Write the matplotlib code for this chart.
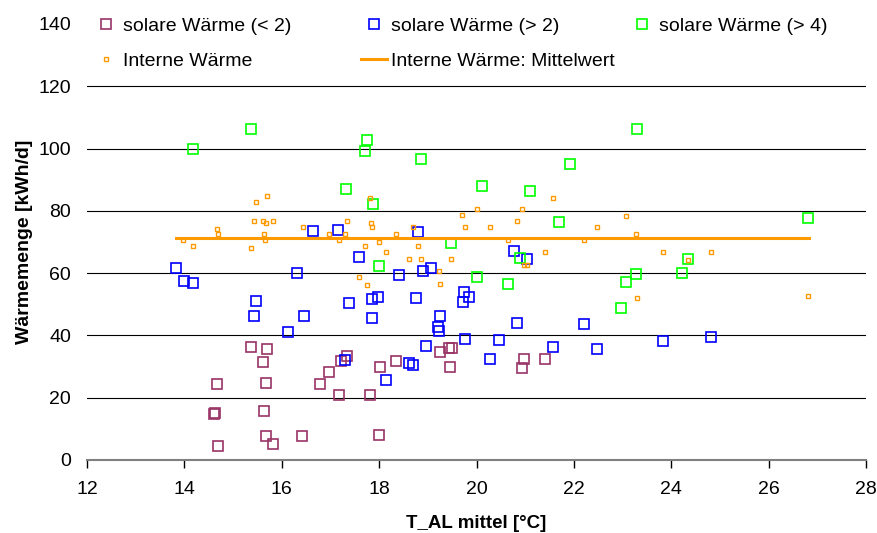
import matplotlib
matplotlib.use('Agg')
import matplotlib.pyplot as plt

plt.rcParams['font.family'] = ['Liberation Sans', 'DejaVu Sans']

# solare Wärme (< 2)
t_low = [14.60, 14.62, 14.66, 14.70, 15.37, 15.61, 15.64, 15.67, 15.68, 15.69, 15.83,
         16.42, 16.79, 16.96, 17.18, 17.21, 17.33, 17.81, 18.00, 18.02, 18.34,
         19.24, 19.43, 19.49, 19.45, 20.94, 20.98, 21.41]
q_low = [14.8, 15.0, 24.4, 4.5, 36.4, 31.4, 15.6, 7.6, 24.6, 35.6, 5.0,
         7.8, 24.4, 28.3, 20.9, 31.9, 33.3, 20.8, 8.1, 29.8, 31.9,
         34.7, 36.1, 36.1, 30.0, 29.4, 32.5, 32.5]

# solare Wärme (> 2)
t_mid = [13.83, 13.99, 14.18, 15.48, 15.44, 16.13, 16.31, 16.45, 16.64, 17.15, 17.29,
         17.38, 17.59, 17.85, 17.86, 17.98, 18.15, 18.41, 18.61, 18.70, 18.76, 18.79,
         18.91, 18.96, 19.07, 19.20, 19.23, 19.24, 19.72, 19.74, 19.77, 19.84, 20.28,
         20.47, 20.76, 20.83, 21.04, 21.57, 22.20, 22.47, 23.82, 24.82]
q_mid = [61.7, 57.5, 56.9, 51.1, 46.2, 41.1, 60.2, 46.2, 73.6, 74.0, 32.1,
         50.4, 65.2, 51.6, 45.6, 52.2, 25.8, 59.4, 31.0, 30.6, 51.9, 73.1,
         60.8, 36.7, 61.5, 42.6, 41.4, 46.3, 50.8, 53.8, 38.9, 52.2, 32.5,
         38.5, 67.0, 43.9, 64.5, 36.4, 43.8, 35.5, 38.3, 39.5]

# solare Wärme (> 4)
t_high = [14.17, 15.37, 17.31, 17.71, 17.75, 17.87, 18.00, 18.87, 19.48, 20.02, 20.12,
          20.65, 20.90, 21.10, 21.70, 21.93, 22.96, 23.08, 23.27, 23.30, 24.21, 24.34, 26.80]
q_high = [99.8, 106.4, 87.0, 99.3, 102.7, 82.2, 62.4, 96.8, 69.6, 58.9, 88.0,
          56.6, 65.0, 86.3, 76.5, 95.2, 48.9, 57.2, 59.7, 106.4, 60.0, 64.5, 77.7]

# Interne Wärme
t_int = [13.98, 14.18, 14.67, 14.70, 15.37, 15.44, 15.48, 15.61, 15.64, 15.66, 15.68,
         15.69, 15.83, 16.44, 16.96, 17.17, 17.30, 17.33, 17.59, 17.70, 17.75, 17.81,
         17.84, 17.86, 18.00, 18.15, 18.34, 18.62, 18.70, 18.80, 18.87, 19.23, 19.24,
         19.48, 19.71, 19.77, 20.02, 20.28, 20.65, 20.83, 20.94, 20.97, 21.04, 21.41,
         21.58, 22.20, 22.47, 23.08, 23.27, 23.30, 23.82, 24.34, 24.82, 26.80]
q_int = [70.5, 68.7, 74.1, 72.6, 68.2, 76.6, 82.8, 76.6, 72.6, 70.5, 76.1,
         84.7, 76.6, 74.7, 72.7, 70.5, 72.7, 76.6, 58.7, 68.7, 56.1, 84.1,
         76.2, 74.7, 70.1, 66.7, 72.7, 64.6, 74.7, 68.7, 64.6, 60.7, 56.6,
         64.6, 78.7, 74.7, 80.7, 74.7, 70.5, 76.6, 80.7, 62.6, 62.6, 66.7,
         84.1, 70.5, 74.7, 78.3, 72.7, 52.1, 66.7, 64.1, 66.7, 52.7]

# Interne Wärme: Mittelwert
mean_x = [13.83, 26.83]
mean_q = 71.2

fig = plt.figure(figsize=(8.77, 5.33), dpi=100)
ax = fig.add_axes([0.0992, 0.137, 0.8883, 0.818])

h1, = ax.plot(t_low, q_low, 's', ms=6.5, mfc='none', mec='#993366', mew=1.2,
              label='solare Wärme (< 2)')
h2, = ax.plot(t_mid, q_mid, 's', ms=6.5, mfc='none', mec='#0000FF', mew=1.2,
              label='solare Wärme (> 2)')
h3, = ax.plot(t_high, q_high, 's', ms=6.5, mfc='none', mec='#00FF00', mew=1.2,
              label='solare Wärme (> 4)')
h4, = ax.plot(t_int, q_int, 's', ms=3, mfc='none', mec='#FF9900', mew=1.0,
              label='Interne Wärme')
h5, = ax.plot(mean_x, [mean_q, mean_q], '-', color='#FF9900', lw=2.2,
              label='Interne Wärme: Mittelwert')

ax.set_xlim(12, 28)
ax.set_ylim(0, 140)
ax.set_xticks(range(12, 29, 2))
ax.set_yticks(range(0, 141, 20))

ax.grid(axis='y', color='black', lw=0.8)
ax.set_axisbelow(True)
ax.yaxis.get_gridlines()[-1].set_visible(False)

for s in ['left', 'right', 'top']:
    ax.spines[s].set_visible(False)
ax.spines['bottom'].set_color('#808080')
ax.spines['bottom'].set_linewidth(1.5)

ax.tick_params(axis='x', length=6, width=1, pad=9, labelsize=14)
ax.tick_params(axis='y', length=0, pad=11.5, labelsize=14)

ax.set_xlabel('T_AL mittel [°C]', fontsize=13.5, fontweight='bold', labelpad=12.5)
ax.set_ylabel('Wärmemenge [kWh/d]', fontsize=14, fontweight='bold', labelpad=4)

# legend laid out like Excel: three equal-width columns, one legend per column
columns = [[h1, h4], [h2, h5], [h3]]
col_x = [93, 361, 629]  # px, left edge of handle box
legends = []
for hs, x in zip(columns, col_x):
    leg = fig.legend(hs, [h.get_label() for h in hs], loc='upper left',
                     bbox_to_anchor=(x / 877, 1 - 17 / 533), frameon=False,
                     fontsize=14, handlelength=1.34, handletextpad=0.2,
                     labelspacing=0.9, borderpad=0, borderaxespad=0)
    legends.append(leg)

fig.savefig('out.png', dpi=100)
